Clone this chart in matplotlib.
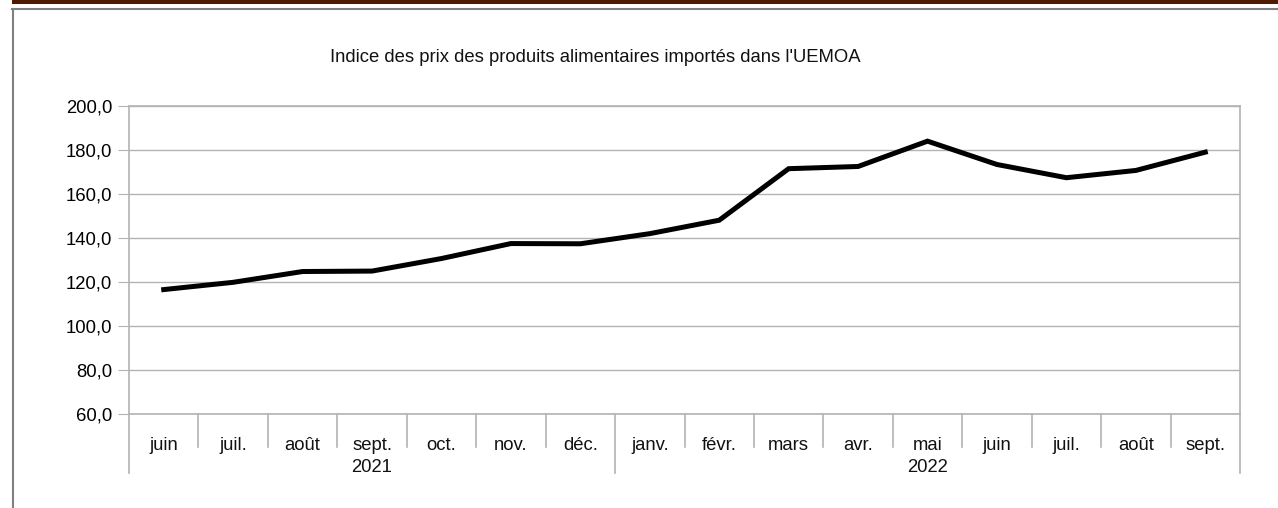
import matplotlib.pyplot as plt
from matplotlib.patches import Rectangle
from matplotlib.lines import Line2D

plt.rcParams["font.family"] = ["Liberation Sans", "DejaVu Sans"]

# monthly import food price index, UEMOA
months = ["juin", "juil.", "août", "sept.", "oct.", "nov.", "déc.",
          "janv.", "févr.", "mars", "avr.", "mai", "juin", "juil.", "août", "sept."]
years = ["2021", "2022"]
year_counts = [7, 9]
index_values = [116.5, 119.8, 124.7, 124.9, 130.6, 137.4, 137.3,
                141.9, 148.0, 171.4, 172.4, 183.9, 173.3, 167.3, 170.6, 178.9]
y_ticks = [60, 80, 100, 120, 140, 160, 180, 200]

fig = plt.figure(figsize=(12.78, 5.08), dpi=100)

# page decoration: brown strip and grey frame
fig.patches.append(Rectangle((12 / 1278, 1 - 4 / 508), 1, 4 / 508, transform=fig.transFigure,
                             facecolor="#4f1a00", edgecolor="none"))
fig.lines.append(Line2D([12 / 1278, 1], [1 - 8.5 / 508] * 2, transform=fig.transFigure,
                        color="#808080", lw=1.5))
fig.lines.append(Line2D([12.5 / 1278] * 2, [0, 1 - 8.5 / 508], transform=fig.transFigure,
                        color="#808080", lw=1.5))

ax = fig.add_axes([129 / 1278, 1 - 414 / 508, (1240 - 129) / 1278, (414 - 105.7) / 508])

x = list(range(len(months)))
ax.plot(x, index_values, color="black", lw=3.6, solid_joinstyle="miter", zorder=3)

ax.set_xlim(-0.5, len(months) - 0.5)
ax.set_ylim(60, 200)
ax.set_yticks(y_ticks)
ax.set_yticklabels([f"{v:.1f}".replace(".", ",") for v in y_ticks], fontsize=13.3)
ax.tick_params(axis="y", length=8, color="#b3b3b3", pad=4)
ax.grid(axis="y", color="#b3b3b3", lw=1)
ax.set_axisbelow(True)
ax.set_xticks([])
for side in ["left", "right", "top", "bottom"]:
    ax.spines[side].set_color("#b3b3b3")
    ax.spines[side].set_linewidth(1.2)

tr = ax.get_xaxis_transform()
h = (414 - 105.7)
minor_y = -(447 - 414) / h
major_y = -(473 - 414) / h
label_y = -(445 - 414) / h
year_y = -(467 - 414) / h

for i, m in enumerate(months):
    ax.text(i, label_y, m, transform=tr, ha="center", va="center", fontsize=13.3, color="#111111")

start = 0
ax.plot([-0.5, -0.5], [0, major_y], transform=tr, color="#b3b3b3", lw=1.2, clip_on=False)
for yr, n in zip(years, year_counts):
    for k in range(start, start + n - 1):
        ax.plot([k + 0.5, k + 0.5], [0, minor_y], transform=tr, color="#b3b3b3", lw=1.2, clip_on=False)
    end = start + n - 0.5
    ax.plot([end, end], [0, major_y], transform=tr, color="#b3b3b3", lw=1.2, clip_on=False)
    ax.text(start + (n - 1) / 2, year_y, yr, transform=tr, ha="center", va="center",
            fontsize=13.3, color="#111111")
    start += n

fig.text(595 / 1278, 1 - 57 / 508, "Indice des prix des produits alimentaires importés dans l'UEMOA",
         ha="center", va="center", fontsize=13.3, color="#111111")

fig.savefig("out.png", dpi=100)
